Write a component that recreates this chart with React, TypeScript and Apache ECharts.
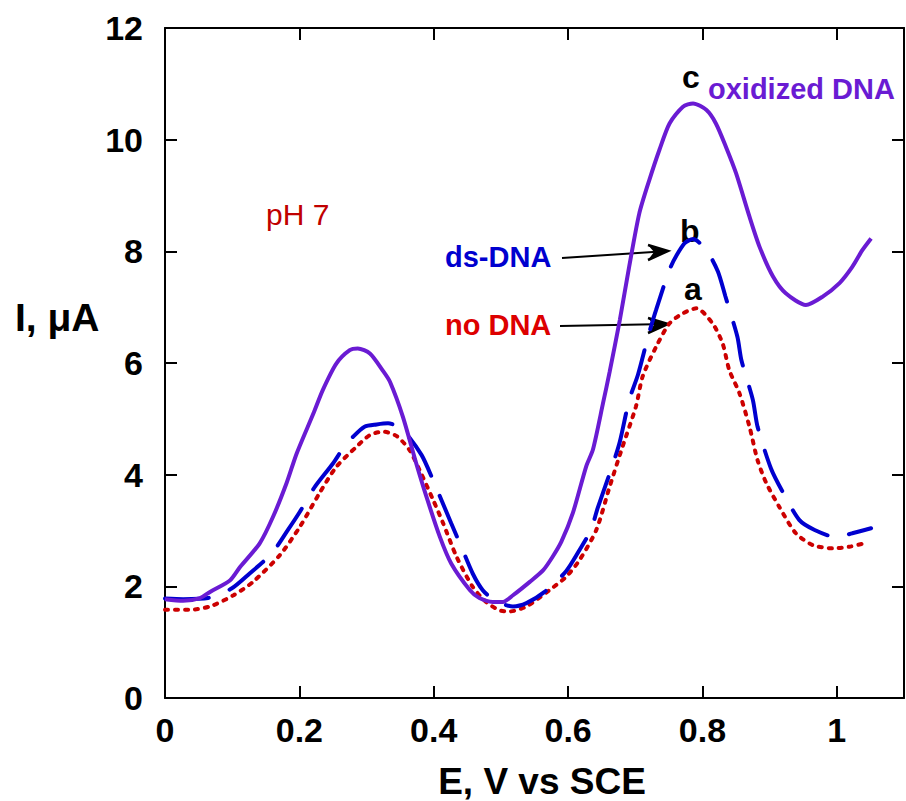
import React, { useEffect, useRef } from 'react';
import * as echarts from 'echarts';

// Curve c: oxidized DNA (purple, solid)
const oxE = [0, 0.027, 0.052, 0.067, 0.097, 0.112, 0.141, 0.161, 0.181, 0.196, 0.221, 0.235, 0.255, 0.275, 0.287, 0.305, 0.325, 0.335, 0.354, 0.374, 0.389, 0.409, 0.426, 0.454, 0.468, 0.488, 0.503, 0.518, 0.543, 0.563, 0.577, 0.590, 0.607, 0.627, 0.637, 0.652, 0.662, 0.677, 0.691, 0.706, 0.721, 0.736, 0.751, 0.771, 0.786, 0.806, 0.820, 0.835, 0.850, 0.870, 0.885, 0.905, 0.924, 0.954, 0.979, 1.004, 1.023, 1.038, 1.051];
const oxI = [1.77, 1.74, 1.79, 1.90, 2.11, 2.35, 2.77, 3.25, 3.85, 4.38, 5.10, 5.52, 5.99, 6.23, 6.26, 6.17, 5.85, 5.66, 5.04, 4.20, 3.61, 2.89, 2.41, 1.93, 1.79, 1.72, 1.72, 1.84, 2.08, 2.29, 2.53, 2.80, 3.31, 4.15, 4.45, 5.28, 5.85, 6.77, 7.73, 8.68, 9.28, 9.82, 10.29, 10.59, 10.65, 10.53, 10.29, 9.87, 9.40, 8.62, 8.08, 7.55, 7.25, 7.04, 7.19, 7.43, 7.72, 8.02, 8.23];

// Curve b: ds-DNA (blue, dashed)
const dsE = [0, 0.027, 0.064, 0.099, 0.126, 0.159, 0.183, 0.201, 0.223, 0.250, 0.265, 0.280, 0.297, 0.315, 0.332, 0.354, 0.382, 0.399, 0.426, 0.441, 0.458, 0.473, 0.490, 0.506, 0.518, 0.538, 0.565, 0.597, 0.617, 0.634, 0.644, 0.667, 0.677, 0.691, 0.704, 0.719, 0.731, 0.753, 0.773, 0.786, 0.806, 0.823, 0.834, 0.852, 0.858, 0.875, 0.882, 0.902, 0.919, 0.944, 0.967, 0.999, 1.023, 1.051];
const dsI = [1.78, 1.77, 1.79, 1.96, 2.23, 2.59, 3.01, 3.34, 3.78, 4.20, 4.47, 4.68, 4.86, 4.90, 4.92, 4.80, 4.35, 3.90, 3.13, 2.71, 2.23, 1.93, 1.75, 1.67, 1.64, 1.70, 1.90, 2.27, 2.65, 3.01, 3.40, 4.20, 4.59, 5.34, 5.79, 6.47, 6.95, 7.73, 8.14, 8.22, 8.02, 7.64, 7.20, 6.47, 6.05, 5.34, 4.86, 4.11, 3.70, 3.19, 3.01, 2.88, 2.95, 3.04];

// Curve a: no DNA (red, dotted)
const noE = [0, 0.037, 0.067, 0.102, 0.131, 0.171, 0.201, 0.230, 0.255, 0.285, 0.305, 0.325, 0.345, 0.364, 0.379, 0.399, 0.414, 0.434, 0.458, 0.478, 0.498, 0.513, 0.538, 0.572, 0.597, 0.617, 0.642, 0.662, 0.681, 0.701, 0.711, 0.731, 0.751, 0.771, 0.791, 0.815, 0.830, 0.840, 0.855, 0.870, 0.882, 0.895, 0.914, 0.939, 0.964, 0.994, 1.019, 1.041];
const noI = [1.58, 1.58, 1.64, 1.84, 2.08, 2.56, 3.07, 3.67, 4.14, 4.50, 4.71, 4.77, 4.69, 4.44, 4.08, 3.55, 3.13, 2.53, 1.99, 1.72, 1.57, 1.55, 1.64, 1.93, 2.17, 2.47, 3.01, 3.79, 4.50, 5.22, 5.76, 6.29, 6.71, 6.89, 6.98, 6.71, 6.35, 5.87, 5.46, 4.86, 4.26, 3.85, 3.43, 2.95, 2.74, 2.68, 2.71, 2.77];

const xTickValues = [0, 0.2, 0.4, 0.6, 0.8, 1];
const yTickValues = [0, 2, 4, 6, 8, 10, 12];
const X_MAX = 1.1;
const Y_MAX = 12;

const FONT = "'Liberation Sans', Arial, Helvetica, sans-serif";
const PURPLE = '#6a1bd3';
const BLUE = '#0000cf';
const RED = '#cc0000';

export default function App() {
  const ref = useRef<HTMLDivElement>(null);
  useEffect(() => {
    document.body.style.margin = '0';
    const chart = echarts.init(ref.current!, null, { renderer: 'svg' });
    const axisLine = { show: true, onZero: false, lineStyle: { color: '#000', width: 2 } };
    const axisTick = { show: true, inside: true, length: 12, lineStyle: { color: '#000', width: 2 } };
    const xFmt = (v: number) => {
      const hit = xTickValues.find((t) => Math.abs(t - v) < 1e-6);
      return hit === undefined ? '' : String(hit);
    };
    const yFmt = (v: number) => {
      const hit = yTickValues.find((t) => Math.abs(t - v) < 1e-6);
      return hit === undefined ? '' : String(hit);
    };
    const labelStyle = { fontSize: 34, fontWeight: 'bold' as const, color: '#000', fontFamily: FONT };
    const txt = (x: number, y: number, text: string, size: number, color: string, weight: string = 'bold', align: string = 'left') => ({
      type: 'text',
      x,
      y,
      style: { text, fill: color, font: `${weight} ${size}px ${FONT}`, textAlign: align, textVerticalAlign: 'middle' },
      silent: true,
    });
    const arrow = (x1: number, y1: number, x2: number, y2: number) => [
      { type: 'line', shape: { x1, y1, x2, y2 }, style: { stroke: '#000', lineWidth: 2 } },
      {
        type: 'polyline',
        shape: { points: [[x2 - 20, y2 - 6], [x2, y2], [x2 - 20, y2 + 9]] },
        style: { stroke: '#000', lineWidth: 2.5, fill: 'none' },
      },
      {
        type: 'polygon',
        shape: { points: [[x2 - 20, y2 - 6], [x2, y2], [x2 - 20, y2 + 9], [x2 - 14, y2 + 1]] },
        style: { fill: '#000' },
      },
    ];
    const toData = (xs: number[], ys: number[]) => xs.map((x, i) => [x, ys[i]]);
    chart.setOption({
      animation: false,
      backgroundColor: '#fff',
      grid: { left: 165, right: 2, top: 28, bottom: 103, containLabel: false, outerBoundsMode: 'none' },
      xAxis: [
        {
          type: 'value', min: 0, max: X_MAX, interval: 0.2, position: 'bottom',
          axisLine, axisTick, splitLine: { show: false },
          axisLabel: { ...labelStyle, margin: 15, formatter: xFmt, showMaxLabel: false },
        },
        {
          type: 'value', min: 0, max: X_MAX, interval: 0.2, position: 'top',
          axisLine, axisTick, splitLine: { show: false }, axisLabel: { show: false },
        },
      ],
      yAxis: [
        {
          type: 'value', min: 0, max: Y_MAX, interval: 2, position: 'left',
          axisLine, axisTick, splitLine: { show: false },
          axisLabel: { ...labelStyle, margin: 22, formatter: yFmt },
        },
        {
          type: 'value', min: 0, max: Y_MAX, interval: 2, position: 'right',
          axisLine, axisTick, splitLine: { show: false }, axisLabel: { show: false },
        },
      ],
      series: [
        {
          type: 'line', name: 'no DNA', data: toData(noE, noI), showSymbol: false, symbol: 'none', smooth: 0.25,
          lineStyle: { color: RED, width: 4, type: [3, 7], cap: 'round' },
        },
        {
          type: 'line', name: 'ds-DNA', data: toData(dsE, dsI), showSymbol: false, symbol: 'none', smooth: 0.25,
          lineStyle: { color: BLUE, width: 4, type: [44, 22], cap: 'round' },
        },
        {
          type: 'line', name: 'oxidized DNA', data: toData(oxE, oxI), showSymbol: false, symbol: 'none', smooth: 0.25,
          lineStyle: { color: PURPLE, width: 4, type: 'solid' },
        },
      ],
      graphic: [
        txt(542, 781, 'E, V vs SCE', 37, '#000', 'bold', 'center'),
        txt(15, 317, 'I, μA', 39, '#000', 'bold', 'left'),
        txt(266, 214, 'pH 7', 30, '#c00000', 'normal', 'left'),
        txt(682, 77, 'c', 32, '#000', 'bold', 'left'),
        txt(708, 89, 'oxidized DNA', 29, PURPLE, 'bold', 'left'),
        txt(680, 231, 'b', 32, '#000', 'bold', 'left'),
        txt(684, 289, 'a', 32, '#000', 'bold', 'left'),
        txt(445, 257, 'ds-DNA', 29, BLUE, 'bold', 'left'),
        txt(445, 325, 'no DNA', 29, '#dd0000', 'bold', 'left'),
        ...arrow(562, 258, 668, 251),
        ...arrow(560, 326, 668, 324),
      ],
    });
    return () => chart.dispose();
  }, []);
  return <div ref={ref} style={{ width: 906, height: 801 }} />;
}
